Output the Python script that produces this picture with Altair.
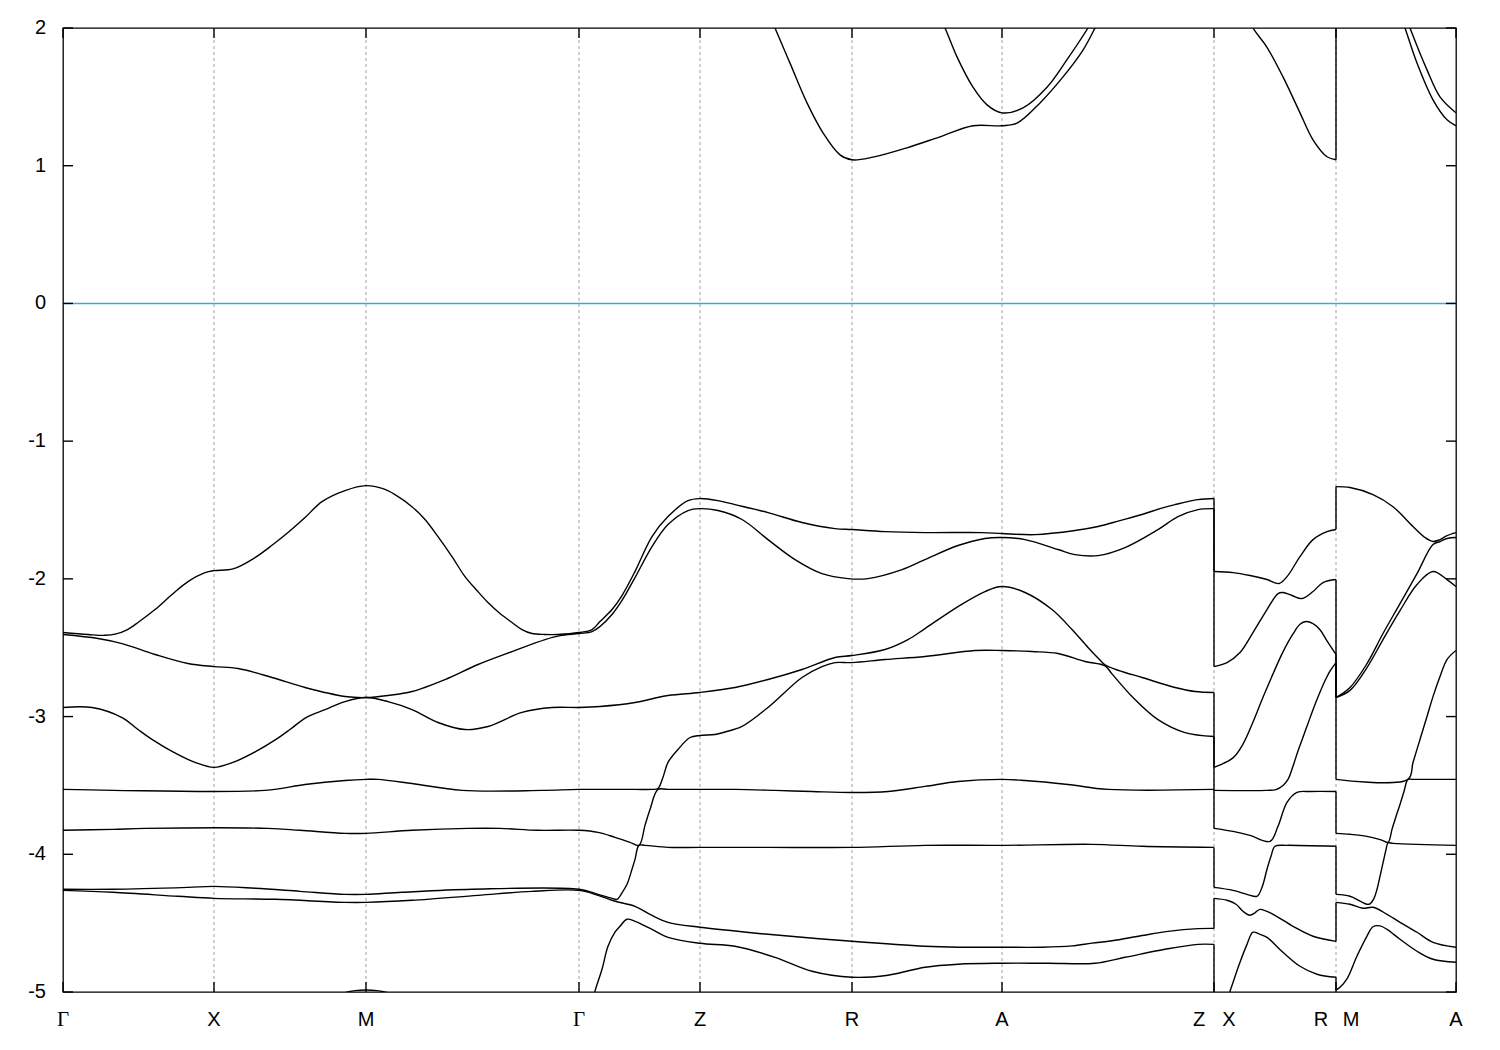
import altair as alt
import pandas as pd

# ---- axis ticks / labels (path coordinate along the k-path) ----
tick_pos = [0, 151, 303, 516, 637, 789, 939, 1151, 1273, 1393]
tick_labels = ["Γ", "X", "M", "Γ", "Z", "R", "A", "Z|X", "R|M", "A"]
y_ticks = [-5, -4, -3, -2, -1, 0, 1, 2]
fermi = [0]

# ---- bands (x along path, energy in eV); repeated x marks a path break ----
v1 = [(0,-2.39),(25,-2.404),(42,-2.41),(53,-2.40),(64,-2.37),(75,-2.317),(92,-2.223),(109,-2.114),(125,-2.02),(142,-1.955),(151,-1.94),(170,-1.928),(192,-1.846),(210,-1.751),(225,-1.664),(242,-1.555),(259,-1.439),(282,-1.359),(303,-1.323),(320,-1.345),(332,-1.388),(349,-1.476),(362,-1.569),(375,-1.693),(389,-1.838),(402,-1.984),(414,-2.085),(425,-2.172),(437,-2.252),(449,-2.317),(459,-2.368),(469,-2.397),(482,-2.404),(495,-2.404),(516,-2.39),
      (529,-2.368),(537,-2.31),(549,-2.223),(559,-2.121),(572,-1.947),(589,-1.693),(605,-1.548),(625,-1.432),(637,-1.417),
      (655,-1.432),(672,-1.461),(705,-1.519),(739,-1.591),(772,-1.635),(789,-1.642),(822,-1.657),(862,-1.664),(919,-1.664),(939,-1.671),(972,-1.679),(1012,-1.649),(1035,-1.62),(1057,-1.577),(1079,-1.533),(1097,-1.49),(1112,-1.461),(1135,-1.425),(1151,-1.417),
      (1151,-1.947),(1170,-1.955),(1187,-1.976),(1204,-2.005),(1216,-2.034),(1224,-1.984),(1237,-1.838),(1250,-1.715),(1264,-1.657),(1273,-1.642),
      (1273,-1.33),(1287,-1.337),(1310,-1.388),(1330,-1.476),(1350,-1.62),(1362,-1.70),(1370,-1.729),(1377,-1.715),(1384,-1.686),(1393,-1.664)]

v2 = [(0,-2.404),(35,-2.433),(59,-2.47),(92,-2.549),(125,-2.615),(151,-2.637),(175,-2.651),(209,-2.716),(242,-2.789),(282,-2.854),(303,-2.862),(325,-2.847),(349,-2.818),(382,-2.731),(415,-2.622),(449,-2.528),(482,-2.441),(497,-2.412),(516,-2.397),
      (529,-2.383),(537,-2.346),(549,-2.259),(559,-2.157),(572,-1.991),(589,-1.766),(605,-1.606),(625,-1.504),(637,-1.49),
      (655,-1.504),(679,-1.569),(705,-1.715),(732,-1.86),(759,-1.962),(785,-1.998),(805,-1.998),(839,-1.933),(862,-1.86),(895,-1.758),(922,-1.707),(939,-1.70),(962,-1.715),(995,-1.787),(1012,-1.824),(1035,-1.831),(1062,-1.773),(1095,-1.642),(1115,-1.548),(1135,-1.497),(1151,-1.49),
      (1151,-2.637),(1164,-2.608),(1177,-2.535),(1190,-2.39),(1204,-2.223),(1215,-2.107),(1220,-2.099),(1229,-2.121),(1239,-2.143),(1250,-2.092),(1260,-2.027),(1273,-2.005),
      (1273,-2.862),(1287,-2.789),(1304,-2.615),(1320,-2.397),(1337,-2.18),(1354,-1.962),(1370,-1.751),(1377,-1.729),(1384,-1.707),(1393,-1.70)]

v3 = [(0,-2.934),(29,-2.934),(59,-3.007),(75,-3.094),(89,-3.166),(109,-3.253),(132,-3.333),(151,-3.369),(170,-3.333),(193,-3.253),(213,-3.166),(227,-3.094),(243,-3.007),(262,-2.95),(282,-2.891),(303,-2.862),(325,-2.891),(349,-2.949),(375,-3.043),(402,-3.094),(425,-3.072),(459,-2.97),(489,-2.934),(516,-2.934),
      (537,-2.927),(572,-2.898),(605,-2.847),(637,-2.825),
      (672,-2.789),(705,-2.731),(739,-2.658),(772,-2.571),(789,-2.557),(822,-2.513),(845,-2.441),(862,-2.361),(895,-2.201),(922,-2.092),(939,-2.056),(962,-2.099),(989,-2.223),(1009,-2.368),(1025,-2.498),(1035,-2.575),(1042,-2.625),(1049,-2.648),(1062,-2.68),(1079,-2.716),(1112,-2.789),(1132,-2.818),(1151,-2.825),
      (1151,-3.369),(1170,-3.30),(1180,-3.20),(1190,-3.04),(1200,-2.86),(1210,-2.69),(1220,-2.53),(1230,-2.40),(1237,-2.33),(1243,-2.31),(1250,-2.325),(1257,-2.37),(1264,-2.45),(1273,-2.549),
      (1273,-2.862),(1287,-2.81),(1304,-2.644),(1320,-2.441),(1337,-2.231),(1354,-2.041),(1370,-1.947),(1384,-2.005),(1393,-2.056)]

v4 = [(0,-3.529),(50,-3.536),(202,-3.536),(242,-3.493),(282,-3.464),(303,-3.456),(315,-3.456),(349,-3.486),(399,-3.536),(479,-3.536),(516,-3.529),
      (572,-3.529),(589,-3.529),(595,-3.522),(600,-3.44),(605,-3.333),(615,-3.239),(627,-3.152),(637,-3.137),
      (652,-3.13),(662,-3.112),(679,-3.072),(705,-2.934),(739,-2.716),(759,-2.637),(772,-2.608),(789,-2.608),(822,-2.586),(862,-2.564),(912,-2.52),(939,-2.52),(969,-2.528),(995,-2.542),(1022,-2.60),(1042,-2.632),(1049,-2.69),(1069,-2.854),(1095,-3.022),(1122,-3.116),(1151,-3.145),
      (1151,-3.536),(1204,-3.536),(1213,-3.53),(1220,-3.50),(1225,-3.456),(1230,-3.36),(1235,-3.25),(1240,-3.15),(1245,-3.05),(1250,-2.95),(1256,-2.84),(1262,-2.74),(1267,-2.67),(1273,-2.608),
      (1273,-3.456),(1345,-3.456),(1350,-3.333),(1357,-3.166),(1364,-3.0),(1370,-2.855),(1377,-2.709),(1384,-2.586),(1393,-2.52)]

v5 = [(0,-3.826),(50,-3.819),(82,-3.812),(205,-3.812),(237,-3.826),(282,-3.848),(303,-3.848),(349,-3.826),(405,-3.812),(437,-3.812),(475,-3.826),(516,-3.826),
      (535,-3.841),(552,-3.877),(567,-3.913),(576,-3.935),(582,-3.79),(587,-3.675),(595,-3.529),(605,-3.529),(637,-3.529),
      (672,-3.529),(712,-3.536),(749,-3.544),(789,-3.551),(825,-3.544),(862,-3.507),(895,-3.471),(939,-3.456),(962,-3.464),(1005,-3.493),(1045,-3.529),(1151,-3.529),
      (1151,-3.812),(1170,-3.834),(1187,-3.863),(1207,-3.906),(1215,-3.797),(1224,-3.623),(1234,-3.551),(1247,-3.544),(1273,-3.544),
      (1273,-3.848),(1287,-3.855),(1304,-3.87),(1318,-3.895),(1325,-3.913),(1329,-3.819),(1333,-3.725),(1337,-3.638),(1341,-3.544),(1345,-3.456),(1350,-3.456),(1393,-3.456)]

v6 = [(0,-4.254),(50,-4.254),(125,-4.24),(151,-4.233),(192,-4.247),(237,-4.269),(282,-4.291),(303,-4.291),(339,-4.276),(409,-4.254),(516,-4.254),
      (535,-4.291),(549,-4.32),(554,-4.327),(559,-4.28),(564,-4.218),(569,-4.109),(572,-4.037),(576,-3.935),(582,-3.935),(605,-3.95),(637,-3.95),
      (705,-3.95),(789,-3.95),(862,-3.935),(939,-3.935),(1029,-3.928),(1079,-3.942),(1151,-3.95),
      (1151,-4.24),(1170,-4.262),(1184,-4.291),(1194,-4.305),(1199,-4.24),(1204,-4.109),(1208,-4.015),(1212,-3.942),(1224,-3.935),(1273,-3.942),
      (1273,-4.291),(1287,-4.305),(1297,-4.34),(1304,-4.363),(1307,-4.36),(1311,-4.32),(1314,-4.254),(1317,-4.16),(1320,-4.063),(1323,-3.967),(1325,-3.918),(1330,-3.921),(1354,-3.928),(1393,-3.935)]

v7 = [(0,-4.262),(50,-4.276),(115,-4.305),(151,-4.32),(212,-4.327),(282,-4.349),(303,-4.349),(349,-4.334),(415,-4.298),(469,-4.269),(516,-4.262),
      (535,-4.298),(549,-4.334),(554,-4.345),(572,-4.378),(587,-4.436),(605,-4.494),(637,-4.53),
      (672,-4.557),(705,-4.581),(789,-4.632),(862,-4.668),(895,-4.675),(939,-4.675),(979,-4.675),(1009,-4.665),(1029,-4.645),(1049,-4.628),(1079,-4.59),(1105,-4.56),(1135,-4.54),(1151,-4.538),
      (1151,-4.32),(1164,-4.334),(1173,-4.363),(1180,-4.414),(1187,-4.443),(1192,-4.425),(1197,-4.40),(1210,-4.436),(1230,-4.523),(1250,-4.595),(1273,-4.632),
      (1273,-4.349),(1287,-4.363),(1300,-4.392),(1310,-4.385),(1324,-4.436),(1337,-4.494),(1354,-4.566),(1370,-4.639),(1393,-4.675)]

v8 = [(0,-5.4),(151,-5.3),(257,-5.1),(272,-5.03),(282,-5.005),(292,-4.99),(303,-4.985),(314,-4.99),(325,-5.005),(337,-5.03),(357,-5.1),(450,-5.3),(516,-5.45),
      (525,-5.2),(532,-4.994),(539,-4.835),(545,-4.668),(552,-4.566),(557,-4.523),(564,-4.472),(572,-4.487),(589,-4.545),(605,-4.603),(637,-4.646),
      (672,-4.668),(712,-4.748),(749,-4.849),(789,-4.893),(825,-4.878),(862,-4.82),(895,-4.798),(939,-4.791),(985,-4.791),(1032,-4.791),(1062,-4.748),(1102,-4.69),(1135,-4.654),(1151,-4.654),
      (1151,-5.33),(1167,-4.994),(1177,-4.784),(1184,-4.654),(1190,-4.566),(1197,-4.581),(1204,-4.603),(1220,-4.712),(1237,-4.813),(1254,-4.871),(1273,-4.893),
      (1273,-4.985),(1277,-4.965),(1284,-4.905),(1294,-4.739),(1304,-4.594),(1310,-4.526),(1317,-4.52),(1324,-4.545),(1337,-4.617),(1354,-4.704),(1370,-4.762),(1393,-4.784)]

c1 = [(0,2.6),(516,2.5),(637,2.4),(702,2.17),(712,2.0),(727,1.745),(744,1.456),(760,1.239),(777,1.079),(789,1.043),(810,1.062),(844,1.13),(877,1.21),(910,1.29),(939,1.29),(954,1.309),(977,1.456),(1000,1.645),(1020,1.84),(1032,2.0),(1042,2.15),(1151,2.6),
      (1151,2.45),(1177,2.2),(1190,2.0),(1204,1.86),(1220,1.645),(1237,1.384),(1250,1.188),(1264,1.065),(1273,1.043),
      (1273,2.8),(1332,2.2),(1342,2.0),(1354,1.745),(1370,1.478),(1384,1.333),(1393,1.29)]

c2 = [(0,3.0),(637,3.0),(860,2.3),(872,2.15),(882,2.0),(894,1.79),(910,1.57),(924,1.442),(939,1.384),(960,1.42),(984,1.57),(1004,1.77),(1025,2.0),(1037,2.15),(1050,2.3),(1151,3.0),
      (1151,3.0),(1273,3.0),
      (1273,3.0),(1337,2.2),(1347,2.0),(1364,1.696),(1377,1.50),(1393,1.384)]

bands = {"v1": v1, "v2": v2, "v3": v3, "v4": v4, "v5": v5, "v6": v6,
         "v7": v7, "v8": v8, "c1": c1, "c2": c2}

rows, joins = [], []
for name, pts in bands.items():
    seg = 0
    for i, (x, e) in enumerate(pts):
        if i > 0 and x == pts[i - 1][0]:
            joins.append({"x": x, "e1": pts[i - 1][1], "e2": e})
            seg += 1
        rows.append({"seg": f"{name}_{seg}", "i": i, "x": x, "e": e})
df = pd.DataFrame(rows)
jdf = pd.DataFrame(joins)

W, H = 1393, 964
xscale = alt.Scale(domain=[0, 1393], nice=False, zero=False)
yscale = alt.Scale(domain=[-5, 2], nice=False, zero=False)
LW = 1.4

grid = alt.Chart(pd.DataFrame({"x": tick_pos[1:-1]})).mark_rule(
    color="#a0a0a0", strokeWidth=1, strokeDash=[3, 3]
).encode(x=alt.X("x:Q", scale=xscale, axis=None))

zero = alt.Chart(pd.DataFrame({"e": fermi})).mark_rule(
    color="#3fa6e0", strokeWidth=1.5
).encode(y=alt.Y("e:Q", scale=yscale, axis=None))

lines = alt.Chart(df).mark_line(
    color="black", strokeWidth=LW, clip=True, interpolate="catmull-rom"
).encode(
    x=alt.X("x:Q", scale=xscale, axis=None),
    y=alt.Y("e:Q", scale=yscale, axis=None),
    detail="seg:N",
    order="i:Q",
)

connectors = alt.Chart(jdf).mark_rule(color="black", strokeWidth=LW, clip=True).encode(
    x=alt.X("x:Q", scale=xscale, axis=None),
    y=alt.Y("e1:Q", scale=yscale, axis=None),
    y2="e2:Q",
)

ytick_df = pd.DataFrame({"e": y_ticks, "lab": [str(v) for v in y_ticks]})
yt_left = alt.Chart(ytick_df).mark_rule(color="black", strokeWidth=LW).encode(
    y=alt.Y("e:Q", scale=yscale, axis=None), x=alt.value(0), x2=alt.value(10))
yt_right = alt.Chart(ytick_df).mark_rule(color="black", strokeWidth=LW).encode(
    y=alt.Y("e:Q", scale=yscale, axis=None), x=alt.value(W - 10), x2=alt.value(W))
ylabels = alt.Chart(ytick_df).mark_text(
    font="Liberation Sans", fontSize=20, align="right", baseline="middle", color="black"
).encode(y=alt.Y("e:Q", scale=yscale, axis=None), x=alt.value(-17), text="lab:N")

xtick_df = pd.DataFrame({"x": tick_pos})
xt_bot = alt.Chart(xtick_df).mark_rule(color="black", strokeWidth=LW).encode(
    x=alt.X("x:Q", scale=xscale, axis=None), y=alt.value(H), y2=alt.value(H - 10))
xt_top = alt.Chart(xtick_df).mark_rule(color="black", strokeWidth=LW).encode(
    x=alt.X("x:Q", scale=xscale, axis=None), y=alt.value(0), y2=alt.value(10))

lab_rows = []
for p, l in zip(tick_pos, tick_labels):
    if "|" in l:
        a, b = l.split("|")
        lab_rows.append({"x": p, "t": a, "kind": "left"})
        lab_rows.append({"x": p, "t": b, "kind": "right"})
    elif l == "Γ":
        lab_rows.append({"x": p, "t": l, "kind": "greek"})
    else:
        lab_rows.append({"x": p, "t": l, "kind": "plain"})
lab = pd.DataFrame(lab_rows)

base_text = alt.Chart(lab).encode(
    x=alt.X("x:Q", scale=xscale, axis=None), y=alt.value(H + 28), text="t:N")
plain = base_text.transform_filter("datum.kind == 'plain'").mark_text(
    font="Liberation Sans", fontSize=20, baseline="middle", align="center", color="black")
greek = base_text.transform_filter("datum.kind == 'greek'").mark_text(
    font="Liberation Serif", fontSize=21, baseline="middle", align="center", color="black")
left = base_text.transform_filter("datum.kind == 'left'").mark_text(
    font="Liberation Sans", fontSize=20, baseline="middle", align="center", color="black", dx=-15)
right = base_text.transform_filter("datum.kind == 'right'").mark_text(
    font="Liberation Sans", fontSize=20, baseline="middle", align="center", color="black", dx=15)

chart = alt.layer(
    grid, zero, lines, connectors, yt_left, yt_right, xt_bot, xt_top,
    ylabels, plain, greek, left, right
).properties(
    width=W, height=H,
    autosize=alt.AutoSizeParams(type="none"),
    padding={"left": 55, "top": 20, "right": 30, "bottom": 50},
).configure_view(stroke="black", strokeWidth=1.3)

chart.save("out.html", embed_options={"renderer": "svg", "actions": False})
